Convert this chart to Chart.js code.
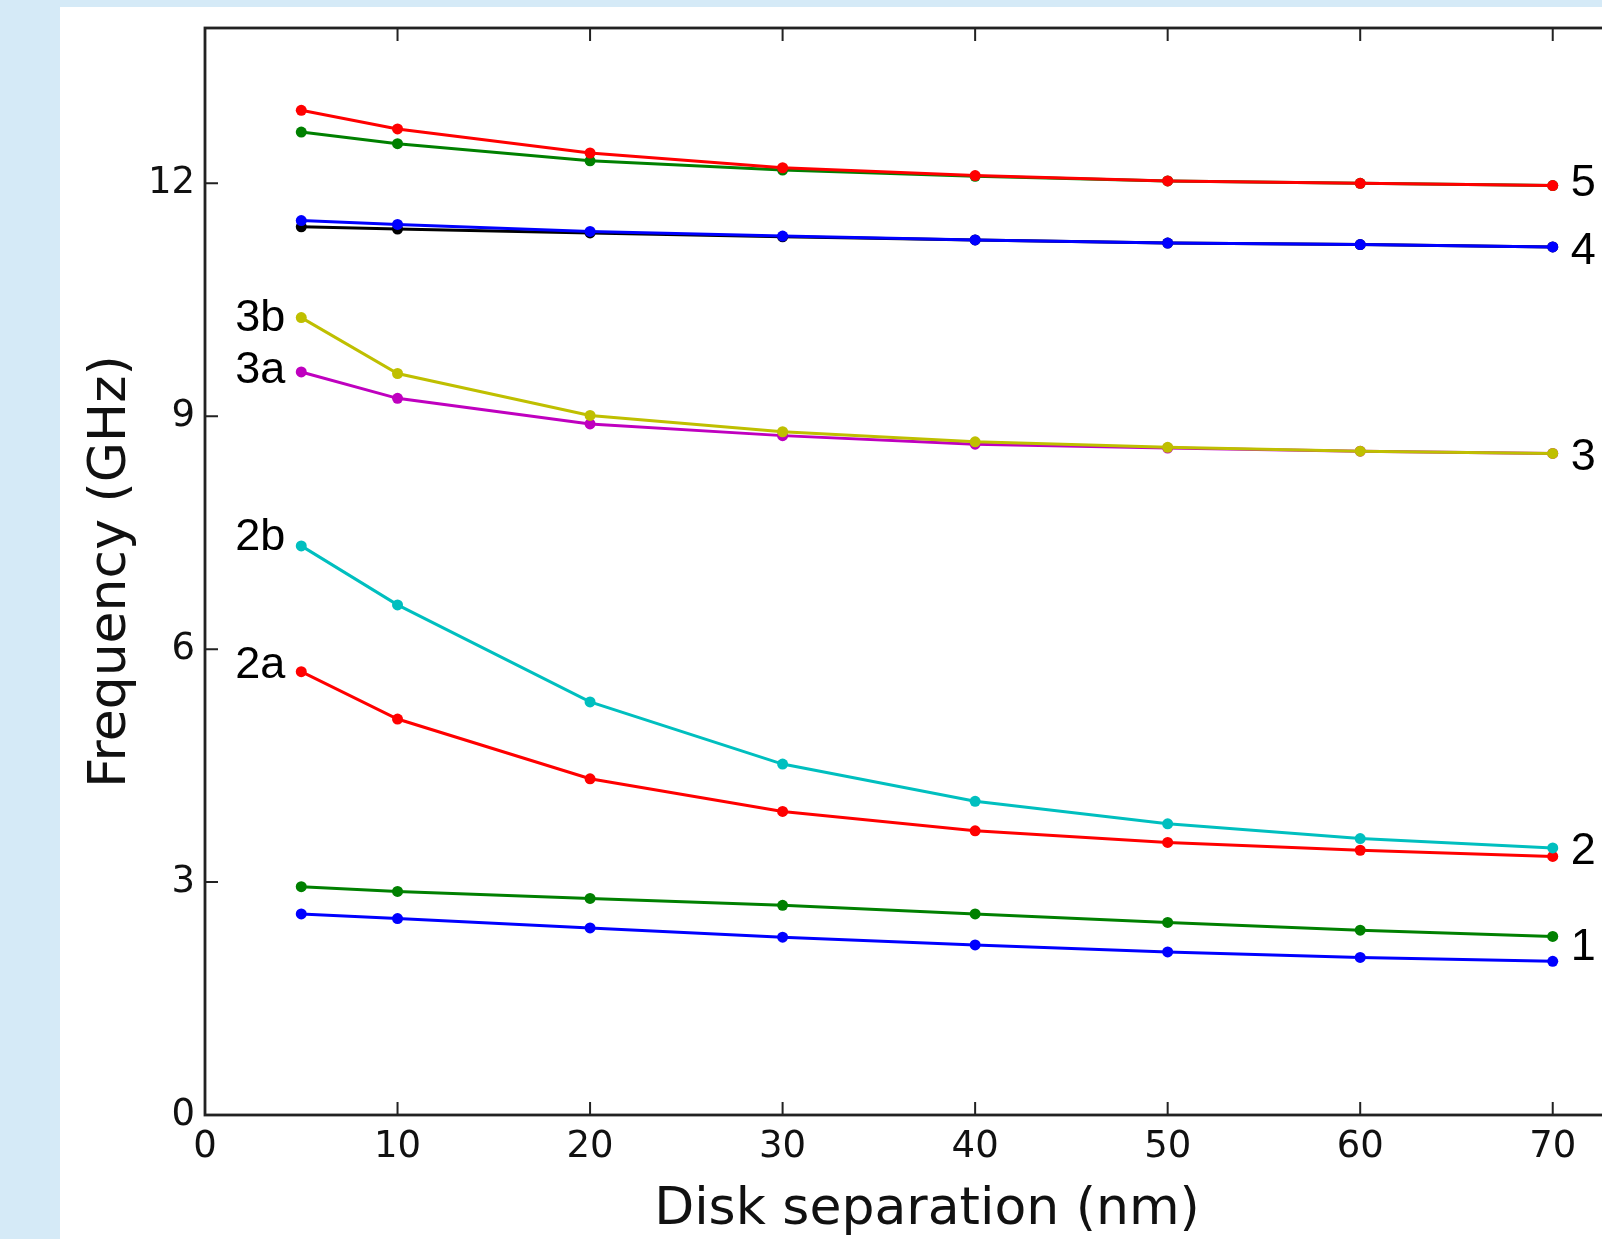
<!DOCTYPE html>
<html>
<head>
<meta charset="utf-8">
<script src="https://cdn.jsdelivr.net/npm/chart.js@4.4.1/dist/chart.umd.min.js"></script>
<style>
html, body { margin: 0; padding: 0; overflow: hidden; width: 1602px; height: 1239px; background: #d5eaf7; }
#panel { position: absolute; left: 60px; top: 7px; width: 1700px; height: 1300px; background: #fff; }
#chart { position: absolute; left: 0; top: 0; }
</style>
</head>
<body>
<div id="panel"></div>
<canvas id="chart" width="1700" height="1239"></canvas>
<script>
// disk separation (nm) and mode frequencies (GHz)
const separations = [5, 10, 20, 30, 40, 50, 60, 70];
const mode1Blue  = [2.59, 2.53, 2.41, 2.29, 2.19, 2.10, 2.03, 1.98];
const mode1Green = [2.94, 2.88, 2.79, 2.70, 2.59, 2.48, 2.38, 2.30];
const mode2a     = [5.71, 5.10, 4.33, 3.91, 3.66, 3.51, 3.41, 3.33];
const mode2b     = [7.33, 6.57, 5.32, 4.52, 4.04, 3.75, 3.56, 3.44];
const mode3a     = [9.57, 9.23, 8.90, 8.75, 8.64, 8.59, 8.55, 8.52];
const mode3b     = [10.27, 9.55, 9.01, 8.80, 8.67, 8.60, 8.55, 8.52];
const mode4Black = [11.44, 11.41, 11.36, 11.31, 11.27, 11.23, 11.21, 11.18];
const mode4Blue  = [11.52, 11.47, 11.38, 11.32, 11.27, 11.23, 11.21, 11.18];
const mode5Green = [12.66, 12.51, 12.29, 12.17, 12.09, 12.03, 12.00, 11.97];
const mode5Red   = [12.94, 12.70, 12.39, 12.20, 12.10, 12.03, 12.00, 11.97];

const xTicks = [0, 10, 20, 30, 40, 50, 60, 70];
const yTicks = [0, 3, 6, 9, 12];

// mode labels: text, anchor x, anchor y (data units), side of the anchor
const labelText  = ['5', '4', '3', '2', '1', '3b', '3a', '2b', '2a'];
const labelX     = [70, 70, 70, 70, 70, 5, 5, 5, 5];
const labelY     = [12.05, 11.17, 8.52, 3.44, 2.20, 10.30, 9.63, 7.48, 5.83];
const labelSide  = ['right', 'right', 'right', 'right', 'right', 'left', 'left', 'left', 'left'];

const toPoints = ys => ys.map((y, i) => ({ x: separations[i], y: y }));

// lower order = drawn on top
function series(values, color, order) {
    return {
        data: toPoints(values),
        borderColor: color,
        backgroundColor: color,
        borderWidth: 3,
        pointRadius: 5.5,
        pointBorderWidth: 0,
        pointBackgroundColor: color,
        tension: 0,
        fill: false,
        order: order
    };
}

const framePlugin = {
    id: 'frame',
    afterDraw(chart) {
        const { ctx, chartArea: a, scales: { x, y } } = chart;
        ctx.save();
        ctx.strokeStyle = '#222';
        ctx.lineWidth = 2;
        const tick = 13;
        ctx.beginPath();
        xTicks.forEach(v => {
            const px = x.getPixelForValue(v);
            ctx.moveTo(px, a.bottom); ctx.lineTo(px, a.bottom - tick);
            ctx.moveTo(px, a.top); ctx.lineTo(px, a.top + tick);
        });
        yTicks.forEach(v => {
            const py = y.getPixelForValue(v);
            ctx.moveTo(a.left, py); ctx.lineTo(a.left + tick, py);
            ctx.moveTo(a.right, py); ctx.lineTo(a.right - tick, py);
        });
        ctx.stroke();
        ctx.lineWidth = 2.8;
        ctx.strokeRect(a.left, a.top, a.right - a.left, a.bottom - a.top);
        ctx.restore();
    }
};

const labelPlugin = {
    id: 'modeLabels',
    afterDatasetsDraw(chart) {
        const { ctx, scales: { x, y } } = chart;
        const size = 45;
        ctx.save();
        ctx.font = size + 'px "Liberation Sans", Arial, sans-serif';
        ctx.fillStyle = '#000';
        ctx.textBaseline = 'alphabetic';
        labelText.forEach((t, i) => {
            const right = labelSide[i] === 'right';
            ctx.textAlign = right ? 'left' : 'right';
            const px = x.getPixelForValue(labelX[i]) + (right ? 18 : -16);
            const py = y.getPixelForValue(labelY[i]) + size * 0.358;
            ctx.fillText(t, px, py);
        });
        ctx.restore();
    }
};

new Chart(document.getElementById('chart'), {
    type: 'line',
    data: {
        datasets: [
            series(mode1Blue,  '#0000ff', 9),
            series(mode1Green, '#008000', 8),
            series(mode2a,     '#ff0000', 7),
            series(mode2b,     '#00bfbf', 6),
            series(mode3a,     '#bf00bf', 5),
            series(mode3b,     '#bfbf00', 4),
            series(mode4Black, '#000000', 3),
            series(mode4Blue,  '#0000ff', 2),
            series(mode5Green, '#008000', 1),
            series(mode5Red,   '#ff0000', 0)
        ]
    },
    options: {
        responsive: false,
        animation: false,
        layout: { padding: { left: 0, top: 28, right: 51, bottom: 0 } },
        plugins: { legend: { display: false }, tooltip: { enabled: false } },
        scales: {
            x: {
                type: 'linear',
                min: 0,
                max: 75,
                afterBuildTicks: s => { s.ticks = xTicks.map(v => ({ value: v })); },
                afterFit: s => { s.height = 124; s.paddingLeft = 0; s.paddingRight = 0; },
                grid: { display: false, drawTicks: false },
                border: { display: false },
                ticks: { color: '#111', padding: 10, maxRotation: 0, font: { family: 'DejaVu Sans', size: 37 } },
                title: { display: true, text: 'Disk separation (nm)', color: '#111', padding: { top: 0, bottom: 3 }, font: { family: 'DejaVu Sans', size: 52, lineHeight: 1 } }
            },
            y: {
                type: 'linear',
                min: 0,
                max: 14,
                afterBuildTicks: s => { s.ticks = yTicks.map(v => ({ value: v })); },
                afterFit: s => { s.width = 205; s.paddingTop = 0; s.paddingBottom = 0; },
                grid: { display: false, drawTicks: false },
                border: { display: false },
                ticks: { color: '#111', padding: 10, font: { family: 'DejaVu Sans', size: 37 } },
                title: { display: true, text: 'Frequency (GHz)', color: '#111', padding: { top: 85, bottom: 0 }, font: { family: 'DejaVu Sans', size: 52, lineHeight: 1 } }
            }
        }
    },
    plugins: [framePlugin, labelPlugin]
});
</script>
</body>
</html>
